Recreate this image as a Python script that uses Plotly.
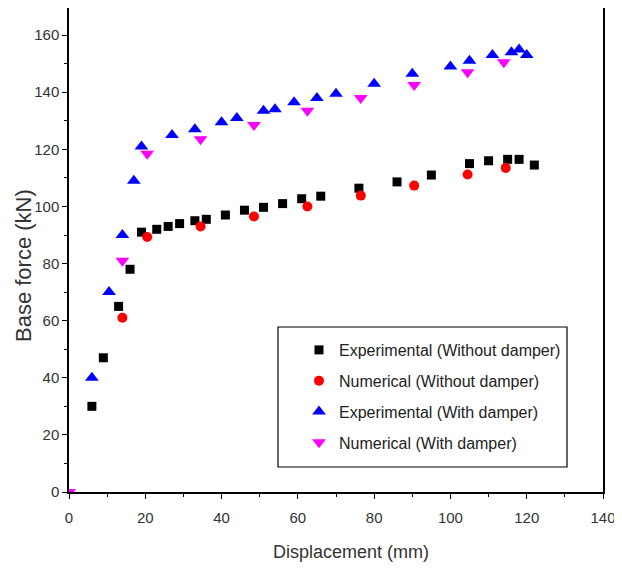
import plotly.graph_objects as go

# Experimental (Without damper)
exp_nd_x = [6, 9, 13, 16, 19, 23, 26, 29, 33, 36, 41, 46, 51, 56, 61, 66, 76, 86, 95, 105, 110, 115, 118, 122]
exp_nd_y = [30, 47, 65, 78, 91, 92, 93, 94, 95, 95.5, 97, 98.7, 99.7, 101, 102.7, 103.6, 106.4, 108.6, 111, 115, 116, 116.5, 116.5, 114.5]
# Numerical (Without damper)
num_nd_x = [14, 20.5, 34.5, 48.5, 62.5, 76.5, 90.5, 104.5, 114.5]
num_nd_y = [61, 89.3, 93, 96.5, 100, 103.8, 107.3, 111.2, 113.5]
# Experimental (With damper)
exp_d_x = [6, 10.5, 14, 17, 19, 27, 33, 40, 44, 51, 54, 59, 65, 70, 80, 90, 100, 105, 111, 116, 118, 120]
exp_d_y = [40, 70, 90, 109, 121, 125, 127, 129.5, 131, 133.5, 134, 136.5, 138, 139.5, 143, 146.5, 149, 151, 153, 154, 155, 153]
# Numerical (With damper)
num_d_x = [0, 14, 20.5, 34.5, 48.5, 62.5, 76.5, 90.5, 104.5, 114]
num_d_y = [0, 81, 118.5, 123.5, 128.5, 133.5, 138, 142.5, 147, 150.5]

x_ticks = [0, 20, 40, 60, 80, 100, 120, 140]
y_ticks = [0, 20, 40, 60, 80, 100, 120, 140, 160]

FONT = "Liberation Sans, Arial, sans-serif"

fig = go.Figure()
fig.add_trace(go.Scatter(x=exp_nd_x, y=exp_nd_y, mode="markers", name="Experimental (Without damper)",
                         legendgroup="a",
                         marker=dict(symbol="square", size=9, color="black")))
fig.add_trace(go.Scatter(x=num_nd_x, y=num_nd_y, mode="markers", name="Numerical (Without damper)",
                         legendgroup="b",
                         marker=dict(symbol="circle", size=10, color="red")))
fig.add_trace(go.Scatter(x=exp_d_x, y=exp_d_y, mode="markers", name="Experimental (With damper)",
                         legendgroup="c",
                         marker=dict(symbol="triangle-up", size=12, color="blue")))
fig.add_trace(go.Scatter(x=num_d_x, y=num_d_y, mode="markers", name="Numerical (With damper)",
                         legendgroup="d",
                         marker=dict(symbol="triangle-down", size=12, color="magenta")))

axis_common = dict(
    showgrid=False, zeroline=False, showline=True, linecolor="black", linewidth=1.5,
    mirror=True, ticks="outside", ticklen=5, tickwidth=1.2, tickcolor="black",
    automargin=False,
    tickfont=dict(family=FONT, size=15, color="#333"),
)

fig.update_xaxes(range=[0, 140], tickvals=x_ticks, ticktext=[str(v) for v in x_ticks],
                 minor=dict(dtick=10, ticks="outside", ticklen=3, tickcolor="black"),
                 ticklabelstandoff=6, **axis_common)
fig.update_yaxes(range=[0, 169.5], tickvals=y_ticks, ticktext=[str(v) for v in y_ticks],
                 minor=dict(dtick=10, ticks="outside", ticklen=3, tickcolor="black"),
                 **axis_common)

# axis titles
fig.add_annotation(text="Displacement (mm)", xref="paper", yref="paper",
                   x=(351 - 69) / 534, y=(492 - 552) / 484, xanchor="center", yanchor="middle",
                   showarrow=False, font=dict(family=FONT, size=18, color="#333"))
fig.add_annotation(text="Base force (kN)", xref="paper", yref="paper", textangle=-90,
                   x=(23 - 69) / 534, y=(492 - 266) / 484, xanchor="center", yanchor="middle",
                   showarrow=False, font=dict(family=FONT, size=22, color="#333"))

fig.add_shape(type="rect", xref="paper", yref="paper",
              x0=(278 - 69) / 534, x1=(567 - 69) / 534,
              y0=(492 - 467) / 484, y1=(492 - 327) / 484,
              line=dict(color="black", width=1.2), fillcolor="rgba(0,0,0,0)")

fig.update_layout(
    width=622, height=571,
    margin=dict(l=61, r=27, t=0, b=87),
    paper_bgcolor="white", plot_bgcolor="white",
    showlegend=True,
    legend=dict(x=(299 - 69) / 534, y=(492 - 333) / 484, xanchor="left", yanchor="top",
                bgcolor="rgba(0,0,0,0)", borderwidth=0,
                font=dict(family=FONT, size=16, color="#222"),
                tracegroupgap=7, itemwidth=30),
)

fig.write_html("out.html")
